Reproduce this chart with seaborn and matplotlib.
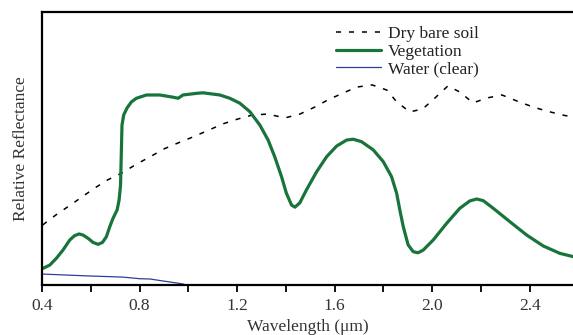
import numpy as np
import pandas as pd
import matplotlib
matplotlib.use("Agg")
import matplotlib.pyplot as plt
import seaborn as sns

# Wavelength (um) / relative reflectance
veg_x = [0.404, 0.432, 0.459, 0.486, 0.514, 0.534, 0.552, 0.568, 0.589, 0.609,
         0.630, 0.648, 0.664, 0.678, 0.691, 0.708, 0.716, 0.722, 0.724, 0.726,
         0.728, 0.735, 0.749, 0.767, 0.787, 0.828, 0.883, 0.937, 0.958, 0.978,
         1.033, 1.060, 1.129, 1.170, 1.211, 1.252, 1.293, 1.327, 1.354, 1.382,
         1.402, 1.423, 1.437, 1.457, 1.484, 1.526, 1.567, 1.608, 1.649, 1.676,
         1.710, 1.758, 1.799, 1.833, 1.854, 1.867, 1.881, 1.901, 1.922, 1.942,
         1.963, 2.004, 2.059, 2.113, 2.154, 2.182, 2.209, 2.250, 2.318, 2.387,
         2.455, 2.523, 2.577]
veg_y = [6.1, 7.3, 9.8, 12.8, 16.5, 18.1, 18.7, 18.3, 17.1, 15.6,
         14.9, 15.6, 17.7, 21.4, 24.4, 27.5, 31.1, 36.6, 44.0, 51.3,
         58.6, 62.3, 64.9, 67.1, 68.4, 69.6, 69.6, 68.8, 68.4, 69.6,
         70.2, 70.4, 69.6, 68.4, 66.6, 63.5, 58.6, 53.1, 47.0, 39.7,
         33.6, 29.3, 28.5, 30.1, 34.8, 41.5, 47.0, 50.9, 53.1, 53.4,
         52.5, 49.5, 45.2, 39.7, 33.6, 27.5, 21.4, 14.7, 12.2, 11.8,
         12.8, 16.5, 22.6, 28.1, 30.8, 31.5, 30.9, 28.1, 23.2, 18.3,
         14.3, 11.6, 10.4]

soil_x = [0.403, 0.456, 0.510, 0.563, 0.616, 0.669, 0.727, 0.788, 0.842, 0.899,
          0.957, 1.018, 1.075, 1.141, 1.203, 1.264, 1.326, 1.396, 1.457, 1.519,
          1.572, 1.634, 1.691, 1.753, 1.814, 1.855, 1.908, 1.961, 2.011, 2.064,
          2.113, 2.167, 2.224, 2.286, 2.347, 2.413, 2.470, 2.532, 2.577]
soil_y = [22.0, 25.6, 28.9, 32.2, 35.5, 38.5, 41.0, 44.3, 46.9, 49.8,
          52.0, 54.2, 56.4, 59.0, 60.8, 62.3, 62.6, 61.2, 62.6, 65.2,
          67.8, 70.3, 72.5, 73.3, 71.4, 67.0, 63.4, 64.5, 68.5, 72.9,
          70.7, 66.7, 68.5, 69.6, 67.4, 65.2, 63.7, 62.3, 61.5]

water_x = [0.403, 0.596, 0.731, 0.801, 0.842, 0.977, 0.989]
water_y = [4.0, 3.3, 2.9, 2.3, 2.2, 0.4, 0.0]

xticks_major = [0.4, 0.8, 1.2, 1.6, 2.0, 2.4]
xticks_minor = [0.6, 1.0, 1.4, 1.8, 2.2]

sns.set_theme(style="white")
plt.rcParams['font.family'] = ['Liberation Serif', 'DejaVu Serif']

fig = plt.figure(figsize=(5.73, 3.35), dpi=100)
ax = fig.add_axes([42 / 573, 1 - 285 / 335, 531 / 573, 273 / 335])

soil = pd.DataFrame({"x": soil_x, "y": soil_y})
veg = pd.DataFrame({"x": veg_x, "y": veg_y})
water = pd.DataFrame({"x": water_x, "y": water_y})

sns.lineplot(data=soil, x="x", y="y", ax=ax, color="black", linewidth=1.1,
             label="Dry bare soil", sort=False)
ax.lines[-1].set_dashes((3.3, 5.2))
sns.lineplot(data=veg, x="x", y="y", ax=ax, color="#18743a", linewidth=2.3,
             label="Vegetation", sort=False)
ax.lines[-1].set_solid_joinstyle("round")
sns.lineplot(data=water, x="x", y="y", ax=ax, color="#2c3e9c", linewidth=0.9,
             label="Water (clear)", sort=False)

ax.set_xlim(0.4, 2.577)
ax.set_ylim(0, 100)
ax.set_xticks(xticks_major)
ax.set_xticklabels([f"{v:.1f}" for v in xticks_major])
ax.set_xticks(xticks_minor, minor=True)
ax.set_yticks([])
ax.tick_params(axis="x", which="both", direction="out", length=5, width=1.3,
               color="black", bottom=True, labelsize=12.5, labelcolor="#333333", pad=4)
for s in ["left", "bottom", "top"]:
    ax.spines[s].set_visible(True)
    ax.spines[s].set_color("black")
    ax.spines[s].set_linewidth(1.6)
ax.spines["right"].set_visible(False)

ax.set_xlabel("Wavelength (\u03bcm)", fontsize=12.5, color="#333333", labelpad=4)
ax.set_ylabel("Relative Reflectance", fontsize=12.5, color="#333333", labelpad=9)

leg = ax.legend(loc="upper left", bbox_to_anchor=(0.554, 0.948), frameon=False,
                fontsize=12.5, handlelength=2.6, handletextpad=0.4,
                labelspacing=0.08, borderpad=0, borderaxespad=0)
for t in leg.get_texts():
    t.set_color("#222222")

fig.savefig("out.png", dpi=100)
